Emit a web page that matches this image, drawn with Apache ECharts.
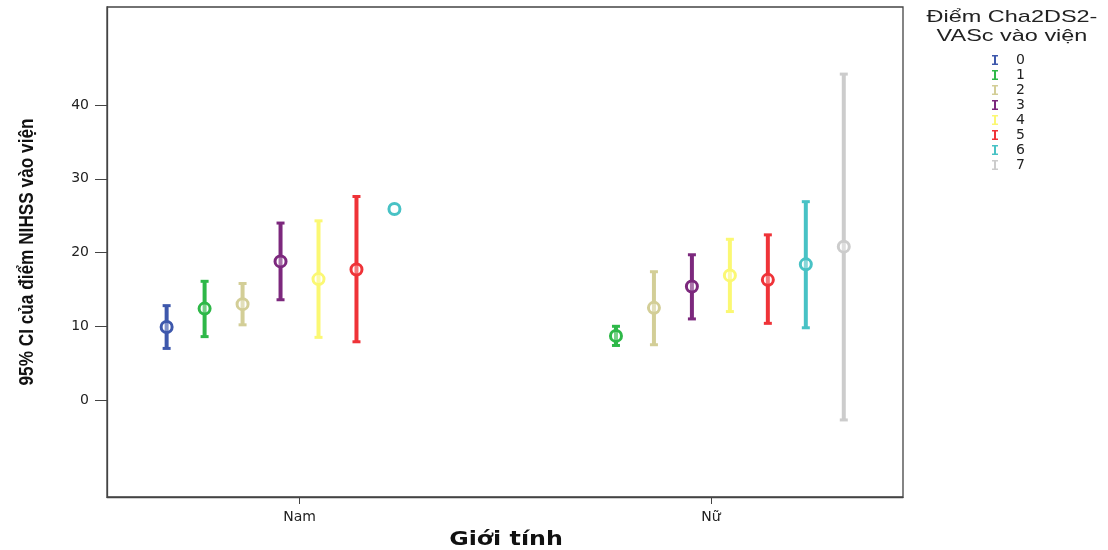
<!DOCTYPE html>
<html>
<head>
<meta charset="utf-8">
<script src="https://cdn.jsdelivr.net/npm/echarts@6/dist/echarts.min.js"></script>
<style>
html,body{margin:0;padding:0;background:#fff;}
#chart{width:1108px;height:550px;}
</style>
</head>
<body>
<div id="chart"></div>
<script>
// Groups (x categories) and legend categories
const groups = ['Nam', 'Nữ'];
const scores = ['0', '1', '2', '3', '4', '5', '6', '7'];
const colors = ['#3E58AC', '#2EB848', '#D3CE97', '#7C287D', '#FBF873', '#EF3338', '#48C2C5', '#CCCCCC'];

// Nam: mean and 95% CI per score (null = no data / no CI)
const namMean = [9.9, 12.4, 13.0, 18.8, 16.4, 17.7, 25.9, null];
const namLow  = [7.0, 8.6, 10.2, 13.6, 8.5, 7.9, null, null];
const namHigh = [12.8, 16.1, 15.8, 24.0, 24.3, 27.6, null, null];

// Nữ
const nuMean = [null, 8.7, 12.5, 15.4, 16.9, 16.3, 18.4, 20.8];
const nuLow  = [null, 7.4, 7.5, 11.0, 12.0, 10.4, 9.8, -2.7];
const nuHigh = [null, 10.0, 17.4, 19.7, 21.8, 22.4, 26.9, 44.2];

const yTicks = [0, 10, 20, 30, 40];

const SP = 0.0923; // cluster spacing in axis units

const means = [namMean, nuMean], lows = [namLow, nuLow], highs = [namHigh, nuHigh];

function renderItem(params, api) {
  const k = params.seriesIndex;
  const g = api.value(0);
  const x = g + (k - 3.5) * SP;
  const m = api.value(1), lo = api.value(2), hi = api.value(3);
  const col = colors[k];
  const children = [];
  const c = api.coord([x, m]);
  if (!isNaN(lo) && !isNaN(hi)) {
    const pLo = api.coord([x, lo]);
    const pHi = api.coord([x, hi]);
    children.push({type: 'line', shape: {x1: pLo[0], y1: pLo[1], x2: pHi[0], y2: pHi[1]}, style: {stroke: col, lineWidth: 4}});
    children.push({type: 'line', shape: {x1: pLo[0] - 4, y1: pLo[1], x2: pLo[0] + 4, y2: pLo[1]}, style: {stroke: col, lineWidth: 3}});
    children.push({type: 'line', shape: {x1: pHi[0] - 4, y1: pHi[1], x2: pHi[0] + 4, y2: pHi[1]}, style: {stroke: col, lineWidth: 3}});
  }
  children.push({type: 'circle', shape: {cx: c[0], cy: c[1], r: 5.5}, style: {fill: 'rgba(255,255,255,0.35)', stroke: col, lineWidth: 3}});
  return {type: 'group', children: children};
}

const series = scores.map((s, k) => {
  const data = [];
  groups.forEach((g, i) => {
    if (means[i][k] !== null) {
      data.push([i, means[i][k], lows[i][k] === null ? NaN : lows[i][k], highs[i][k] === null ? NaN : highs[i][k]]);
    }
  });
  return {
    name: s, type: 'custom', renderItem: renderItem,
    itemStyle: {color: colors[k]},
    encode: {x: 0, y: 1},
    data: data, clip: false
  };
});

const chart = echarts.init(document.getElementById('chart'), null, {renderer: 'canvas'});
chart.setOption({
  animation: false,
  backgroundColor: '#fff',
  grid: {left: 107, right: 205, top: 7, bottom: 53, show: true, borderColor: '#444', borderWidth: 1.3},
  xAxis: {
    type: 'value', min: -0.468, max: 1.467,
    axisLine: {show: true, onZero: false, lineStyle: {color: '#444', width: 1.3}},
    axisTick: {show: true, customValues: [0, 1], length: 7, lineStyle: {color: '#444'}},
    axisLabel: {show: true, customValues: [0, 1], formatter: v => groups[Math.round(v)], fontFamily: 'DejaVu Sans', fontSize: 14, color: '#222', margin: 13},
    splitLine: {show: false}
  },
  yAxis: {
    type: 'value', min: -13.15, max: 53.3,
    axisLine: {show: true, onZero: false, lineStyle: {color: '#444', width: 1.3}},
    axisTick: {show: true, customValues: yTicks, length: 12, lineStyle: {color: '#444'}},
    axisLabel: {show: true, customValues: yTicks, fontFamily: 'DejaVu Sans', fontSize: 14, color: '#222', margin: 18},
    splitLine: {show: false}
  },
  legend: {
    orient: 'vertical', left: 992, top: 53, padding: 0,
    data: scores,
    icon: 'path://M0,0 H6 V1.6 H4 V8.4 H6 V10 H0 V8.4 H2 V1.6 H0 Z',
    itemWidth: 6, itemHeight: 10, itemGap: 1,
    textStyle: {fontFamily: 'DejaVu Sans', fontSize: 14, lineHeight: 12, color: '#222', padding: [0, 0, 0, 13]}
  },
  graphic: [
    {type: 'text', x: 1012, y: 8, scaleX: 1.38, originX: 0,
     style: {text: 'Điểm Cha2DS2-\nVASc vào viện', font: '17px "Liberation Sans", Arial', fill: '#222', lineHeight: 19, align: 'center'}},
    {type: 'text', x: 27, y: 252, rotation: Math.PI / 2, scaleX: 0.82, originX: 0, originY: 0,
     style: {text: '95% CI của điểm NIHSS vào viện', font: 'bold 21px "Liberation Sans", Arial', fill: '#111', align: 'center', verticalAlign: 'middle'}},
    {type: 'text', x: 506, y: 540, scaleX: 1.25, originX: 0,
     style: {text: 'Giới tính', font: 'bold 19px "DejaVu Sans"', fill: '#111', align: 'center', verticalAlign: 'middle'}}
  ],
  series: series
});
</script>
</body>
</html>
